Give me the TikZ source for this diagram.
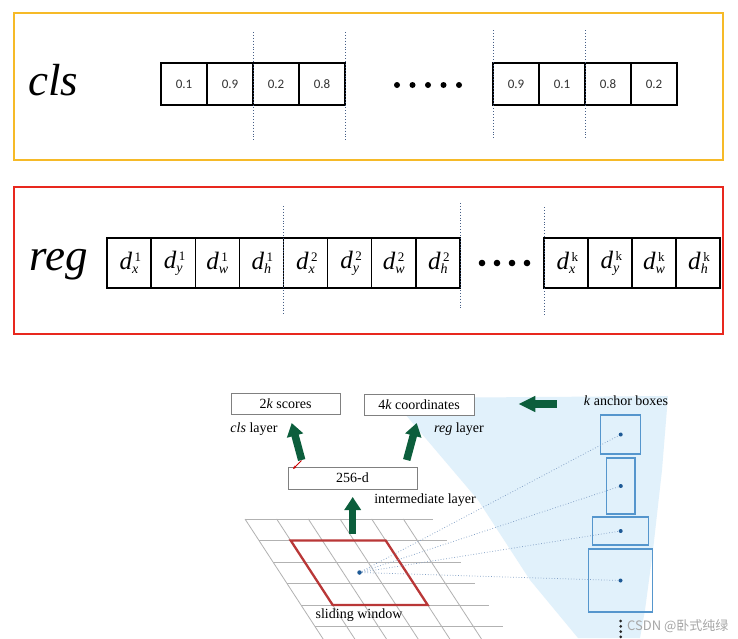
\documentclass[tikz,border=0pt]{standalone}
\usepackage{fontspec}
\setmainfont{Liberation Serif}
\newfontfamily\numfont{Carlito}
\newfontfamily\cjkfont{Noto Sans CJK SC}
\usetikzlibrary{arrows.meta,calc}
\definecolor{frameY}{RGB}{246,186,40}
\definecolor{frameR}{RGB}{232,40,30}
\definecolor{divblue}{RGB}{70,95,135}
\definecolor{arrgreen}{RGB}{12,94,60}
\definecolor{skyfill}{RGB}{225,241,251}
\definecolor{anchorblue}{RGB}{85,150,205}
\definecolor{dotblue}{RGB}{30,90,150}
\definecolor{gridgray}{RGB}{178,178,178}
\definecolor{winred}{RGB}{185,55,55}
\definecolor{fanblue}{RGB}{130,160,198}
\newcommand\dd[2]{\textit{d}\rlap{\hspace{2.5pt}\raisebox{8pt}{\fontsize{13}{13}\selectfont #1}}\raisebox{-4pt}{\fontsize{14}{14}\selectfont\itshape #2}\hspace{2pt}}
\begin{document}
\begin{tikzpicture}[x=1pt,y=-1pt,
  outerframe/.style={line width=2.6pt},
  clscell/.style={draw=black,line width=1.3pt,minimum width=46pt,minimum height=42pt,inner sep=0pt,outer sep=0pt,font=\numfont\fontsize{13}{13}\selectfont,text=black!80},
  regcell/.style={draw=black,line width=1.3pt,minimum width=44.1pt,minimum height=50pt,inner sep=0pt,outer sep=0pt,font=\fontsize{25}{25}\selectfont},
  divider/.style={divblue,dotted,line width=0.9pt},
  bigtext/.style={font=\fontsize{45}{45}\selectfont\itshape,inner sep=0pt},
  layerbox/.style={draw=black!50,line width=0.9pt,fill=white,inner sep=0pt,font=\fontsize{14}{14}\selectfont},
  lbl/.style={font=\fontsize{14}{14}\selectfont,inner sep=0pt},
  bigarrow/.style={arrgreen,line width=7.5pt,-{Triangle[length=13pt,width=16pt]}},
  gridline/.style={gridgray,line width=0.8pt},
  anchorbox/.style={draw=anchorblue,line width=1.5pt,inner sep=0pt},
  anchordot/.style={circle,fill=dotblue,inner sep=0pt,minimum size=4pt},
  fanline/.style={fanblue,dotted,line width=0.75pt}
]
\useasboundingbox (0,0) rectangle (738,638);
\fill[white] (0,0) rectangle (738,638);

% ---------- cls panel ----------
\draw[outerframe,frameY] (14,13) rectangle (723,160);
\node[bigtext,anchor=base west] (clsname) at (28,95) {cls};
\foreach \v [count=\i] in {0.1,0.9,0.2,0.8}
  \node[clscell] (ca\i) at ({161+46*(\i-0.5)},84) {\v};
\foreach \v [count=\i] in {0.9,0.1,0.8,0.2}
  \node[clscell] (cb\i) at ({493+46*(\i-0.5)},84) {\v};
\foreach \k in {0,...,4} \fill (397+15.5*\k,85) circle (3pt);
\draw[divider] ($(ca2.north east)+(0,-31)$) -- ($(ca2.south east)+(0,35)$);
\draw[divider] ($(ca4.north east)+(0,-31)$) -- ($(ca4.south east)+(0,35)$);
\draw[divider] ($(cb1.north west)+(0,-33)$) -- ($(cb1.south west)+(0,35)$);
\draw[divider] ($(cb2.north east)+(0,-33)$) -- ($(cb2.south east)+(0,35)$);

% ---------- reg panel ----------
\draw[outerframe,frameR] (14,187) rectangle (723,334);
\node[bigtext,anchor=base west] (regname) at (29,270) {reg};
\foreach \s/\b [count=\i] in {1/x,1/y,1/w,1/h,2/x,2/y,2/w,2/h}
  \node[regcell] (ra\i) at ({107+44.125*(\i-0.5)},263) {\dd{\s}{\b}};
\foreach \s/\b [count=\i] in {k/x,k/y,k/w,k/h}
  \node[regcell] (rb\i) at ({544+44*(\i-0.5)},263) {\dd{\s}{\b}};
\foreach \k in {0,...,3} \fill (482+15*\k,263) circle (3.3pt);
\draw[divider] ($(ra4.north east)+(0,-32)$) -- ($(ra4.south east)+(0,27)$);
\draw[divider] ($(ra8.north east)+(0,-35)$) -- ($(ra8.south east)+(0,22)$);
\draw[divider] ($(rb1.north west)+(0,-31)$) -- ($(rb1.south west)+(0,27)$);

% ---------- RPN figure ----------
\fill[skyfill] (407,398) -- (668,396) -- (662,470) -- (653,550) -- (645,610) -- (640,638)
  -- (578,638) -- (530,580) -- (478,500) -- (433,447) -- (405,414) -- cycle;

\begin{scope}
\clip (0,0) rectangle (738,638);
\foreach \r in {0,...,5} \draw[gridline] ({245+14*\r},{519+21.5*\r}) -- ++(188,0);
\foreach \c in {0,...,5} \draw[gridline] ({245+31.67*\c},519) -- ++(91,139.75);
\end{scope}
\draw[winred,line width=2.3pt,line join=miter] (290.7,540.5) -- (385.7,540.5) -- (427.7,605) -- (332.7,605) -- cycle;
\node[lbl] (swin) at (359,615) {sliding window};

\node[anchordot,minimum size=4.5pt] (ctr) at (359.5,572.5) {};

\node[anchorbox,minimum width=40pt,minimum height=39pt] (ab1) at (620.7,434.5) {};
\node[anchorbox,minimum width=28.3pt,minimum height=56pt] (ab2) at (620.8,486) {};
\node[anchorbox,minimum width=56pt,minimum height=28.3pt] (ab3) at (620.7,531) {};
\node[anchorbox,minimum width=63.6pt,minimum height=63pt] (ab4) at (620.5,580.5) {};
\foreach \i in {1,...,4} {
  \node[anchordot] (ad\i) at (ab\i.center) {};
  \draw[fanline] (ctr) -- (ad\i);
}
\node[lbl] (kab) at (626,401) {\textit{k} anchor boxes};
\foreach \k in {0,...,3} \fill[black!85] (620.7,{621+5.3*\k}) circle (1.5pt);

\node[layerbox,minimum width=109pt,minimum height=21pt] (scores) at (285.5,404) {2\textit{k} scores};
\node[layerbox,minimum width=110pt,minimum height=21pt] (coords) at (419,404.5) {4\textit{k} coordinates};
\node[layerbox,minimum width=129pt,minimum height=22pt] (inter) at (352.5,478) {256-d};
\node[lbl] (clsl) at (254,429) {\textit{cls} layer};
\node[lbl] (regl) at (459,429) {\textit{reg} layer};
\node[lbl] (interl) at (425,500) {intermediate layer};

\coordinate (m0) at (352.7,534); \coordinate (m1) at (352.7,497);
\draw[bigarrow] (m0) -- (m1);
\coordinate (c0) at (301.7,460); \coordinate (c1) at (291.7,423);
\draw[bigarrow] (c0) -- (c1);
\coordinate (r0) at (406.7,460); \coordinate (r1) at (416.7,423);
\draw[bigarrow] (r0) -- (r1);
\coordinate (l0) at (556.7,404); \coordinate (l1) at (518.3,404);
\draw[arrgreen,line width=7.7pt,-{Triangle[length=17pt,width=15pt]}] (l0) -- (l1);

\coordinate (rm0) at (301.5,460.5); \coordinate (rm1) at (293,469);
\draw[red!80!black,line width=0.8pt,-{Stealth[length=3.5pt,width=3pt]}] (rm0) -- (rm1);

\node[anchor=west,inner sep=0pt,font=\cjkfont\fontsize{13}{13}\selectfont,text=black!35] (wm) at (627,626) {CSDN @卧式纯绿};
\end{tikzpicture}
\end{document}
